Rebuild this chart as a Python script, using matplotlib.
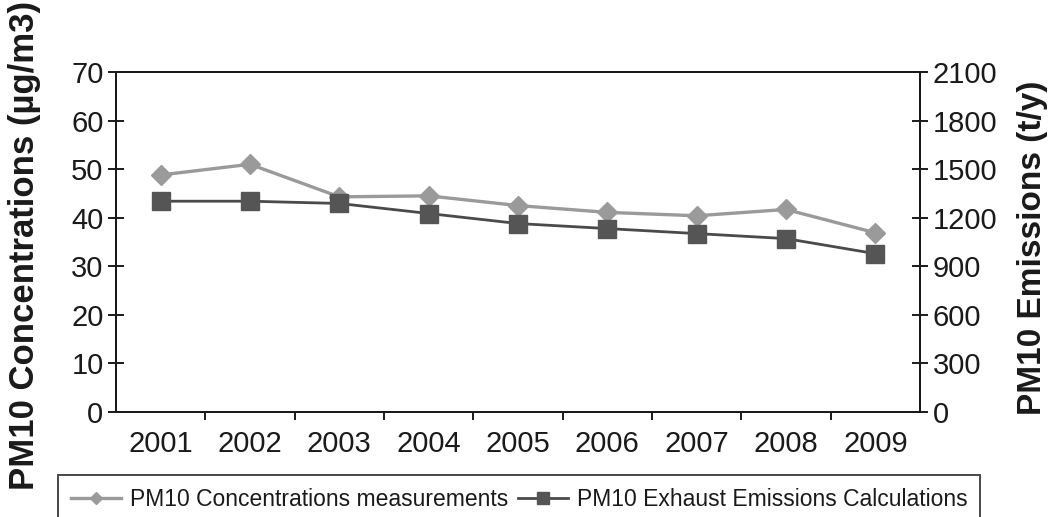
import matplotlib
matplotlib.use("Agg")
import matplotlib.pyplot as plt
import numpy as np

# Annual values
years = ["2001", "2002", "2003", "2004", "2005", "2006", "2007", "2008", "2009"]
pm10_concentration = [48.8, 51.0, 44.3, 44.5, 42.5, 41.1, 40.4, 41.7, 36.9]   # µg/m3
pm10_emissions = [1302, 1302, 1288, 1226, 1164, 1133, 1102, 1071, 978]       # t/y

conc_ticks = list(range(0, 71, 10))
emis_ticks = list(range(0, 2101, 300))

plt.rcParams["font.family"] = ["Liberation Sans", "DejaVu Sans"]

W, H = 1049, 517
fig = plt.figure(figsize=(W / 100, H / 100), dpi=100)
ax = fig.add_axes([116 / W, 1 - 412 / H, (920 - 116) / W, (412 - 72) / H])
ax2 = ax.twinx()

x = np.arange(len(years))

light = "#9a9a9a"
dark = "#555555"

l1, = ax.plot(x, pm10_concentration, color=light, lw=2.4, marker="D", ms=10,
              mfc=light, mec=light, label="PM10 Concentrations measurements")
l2, = ax2.plot(x, pm10_emissions, color="#4a4a4a", lw=2.0, marker="s", ms=13,
               mfc=dark, mec=dark, label="PM10 Exhaust Emissions Calculations")

ax.set_xlim(-0.5, len(years) - 0.5)
ax.set_ylim(0, 70)
ax2.set_ylim(0, 2100)

ax.set_xticks(x)
ax.set_xticklabels(years)
ax.set_xticks(np.arange(0.5, len(years) - 0.5, 1.0), minor=True)
ax.tick_params(axis="x", which="major", length=0, pad=13, labelsize=21, colors="#1a1a1a")
ax.tick_params(axis="x", which="minor", length=6, width=1.4, direction="out", color="#1a1a1a")

ax.set_yticks(conc_ticks)
ax.tick_params(axis="y", which="major", direction="inout", length=12, width=1.4,
               labelsize=21, pad=3, colors="#1a1a1a")
ax2.set_yticks(emis_ticks)
ax2.tick_params(axis="y", which="major", direction="inout", length=12, width=1.4,
                labelsize=21, pad=3, colors="#1a1a1a")

for a in (ax, ax2):
    for s in a.spines.values():
        s.set_linewidth(1.4)
        s.set_color("#1a1a1a")

fig.text(25 / W, 1 - 245 / H, "PM10 Concentrations (\u00b5g/m3)", rotation=90,
         ha="center", va="center", fontsize=25, fontweight="bold", color="#1a1a1a")
fig.text(1033 / W, 1 - 248 / H, "PM10 Emissions (t/y)", rotation=90,
         ha="center", va="center", fontsize=24, fontweight="bold", color="#1a1a1a")

leg = fig.legend(handles=[l1, l2], loc="upper left",
                 bbox_to_anchor=(58 / W, 1 - 475 / H), bbox_transform=fig.transFigure,
                 ncol=2, fontsize=16.5, frameon=True, fancybox=False, borderaxespad=0,
                 borderpad=0.55, handlelength=2.2, handletextpad=0.4,
                 columnspacing=0.4, numpoints=1, markerscale=0.65)
leg.get_frame().set_edgecolor("#1a1a1a")
leg.get_frame().set_linewidth(1.4)
for t in leg.get_texts():
    t.set_color("#1a1a1a")

fig.savefig("out.png", dpi=100)
